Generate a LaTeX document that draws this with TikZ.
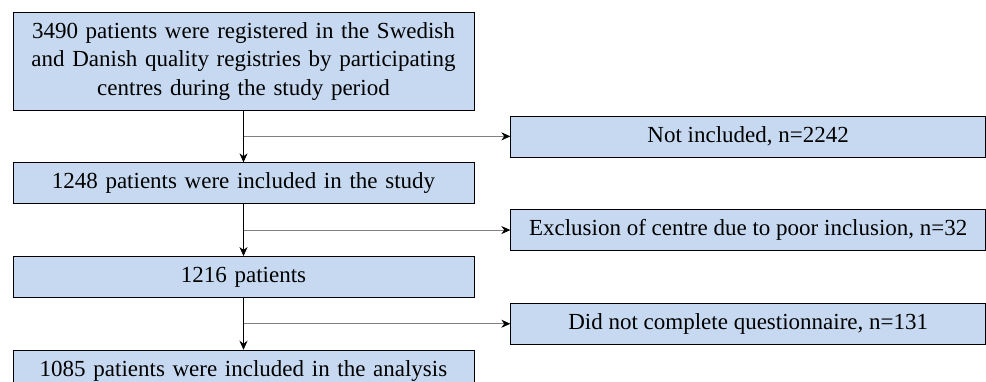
\documentclass[tikz,border=0pt]{standalone}
\usepackage{fontspec}
\setmainfont{Liberation Serif}
\usetikzlibrary{arrows.meta, positioning}
\definecolor{boxblue}{HTML}{C6D9F1}
\tikzstyle{mainbox} = [rectangle, minimum width=461pt, minimum height=41pt, align=center, text width=450pt, draw=black, fill=boxblue, line width=0.7pt]
\tikzstyle{sidebox} = [rectangle, minimum width=475pt, minimum height=41pt, text centered, draw=black, fill=boxblue, line width=0.7pt]
\tikzstyle{arrow} = [line width=0.7pt, -{Stealth[length=9pt,width=8pt]}]
\tikzstyle{branch} = [line width=0.7pt, draw=gray, -{Stealth[black,length=9pt,width=8pt]}]

\begin{document}
\begin{tikzpicture}[node distance=52pt, font=\fontsize{23}{28.5}\selectfont]
\useasboundingbox (0,0) rectangle (986pt,-381pt);

\node (reg) [mainbox, minimum height=98pt] at (243.5pt,-61pt) {3490 patients were registered in the Swedish\\ and Danish quality registries by participating\\ centres during the study period};
\node (study) [mainbox, below=of reg] {1248 patients were included in the study};
\node (pat) [mainbox, below=of study] {1216 patients};
\node (anal) [mainbox, below=of pat] {1085 patients were included in the analysis};

\path (reg) -- (study) coordinate[pos=0.5] (m1);
\path (study) -- (pat) coordinate[pos=0.5] (m2);
\path (pat) -- (anal) coordinate[pos=0.5] (m3);
\coordinate (e1) at (m1 -| reg.east);
\coordinate (e2) at (m2 -| reg.east);
\coordinate (e3) at (m3 -| reg.east);

\node (notincl) [sidebox, right=36pt of e1] {Not included, n=2242};
\node (excl) [sidebox, right=36pt of e2] {Exclusion of centre due to poor inclusion, n=32};
\node (quest) [sidebox, right=36pt of e3] {Did not complete questionnaire, n=131};

\draw [arrow] (reg) -- (study);
\draw [arrow] (study) -- (pat);
\draw [arrow] (pat) -- (anal);

\draw [branch] (m1) -- (notincl);
\draw [branch] (m2) -- (excl);
\draw [branch] (m3) -- (quest);
\end{tikzpicture}
\end{document}
